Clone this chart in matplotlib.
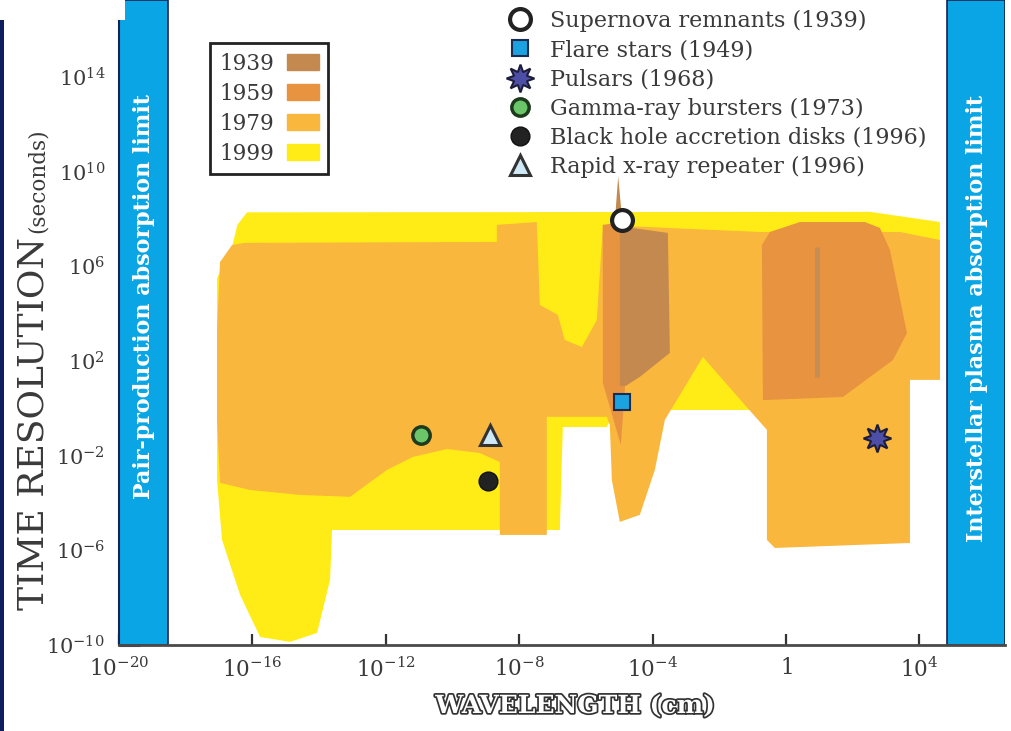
import numpy as np
import matplotlib
matplotlib.use("Agg")
import matplotlib.pyplot as plt
from matplotlib.patches import Patch, Rectangle
import matplotlib.patheffects as pe

plt.rcParams['font.family'] = ['DejaVu Serif']
plt.rcParams['mathtext.fontset'] = 'dejavuserif'

# ---------------------------------------------------------------------------
# Observational coverage by era.  Outlines are given as
# log10(wavelength / cm) and log10(time resolution / s).
# ---------------------------------------------------------------------------
era_labels = ["1939", "1959", "1979", "1999"]
era_colors = ["#C4894F", "#E8933F", "#F9B73D", "#FFEC17"]

cover_1999_logwl = [-16.16, 2.52, 4.62, 4.62, -0.87, -0.87, -3.48, -3.78, -5.22,
                    -5.37, -6.69, -6.78, -13.61, -13.67, -14.06, -14.87, -15.77,
                    -16.37, -16.91, -17.06, -17.06, -16.61, -16.45]
cover_1999_logt = [8.28, 8.30, 7.87, 4.60, 1.50, -0.07, -0.07, -0.36, -0.36,
                   -0.79, -0.79, -5.14, -5.14, -7.25, -9.49, -9.87, -9.66,
                   -7.88, -5.56, -3.03, 5.50, 6.82, 7.75]

cover_1979_logwl = [-17.06, -16.97, -16.61, -16.22, -8.67, -8.67, -7.47, -7.38,
                    -6.84, -6.63, -6.12, -5.67, -5.49, -3.54, -0.78, 3.42, 4.62,
                    4.62, 3.72, 3.72, -0.33, -0.57, -0.57, -1.23, -2.49, -3.63,
                    -3.93, -4.38, -4.98, -5.22, -5.28, -5.37, -7.17, -7.17,
                    -8.58, -8.58, -9.18, -10.16, -11.18, -11.96, -13.07, -14.57,
                    -16.07, -16.97, -17.06]
cover_1979_logt = [3.31, 6.18, 6.90, 6.99, 7.03, 7.75, 7.87, 4.37,
                   3.95, 2.89, 2.59, 3.73, 7.75, 7.62, 7.45, 7.45, 7.11,
                   1.20, 1.20, -5.69, -5.90, -5.56, -0.91, 0.14, 2.17, -0.49,
                   -2.60, -4.50, -4.80, -3.03, -0.70, -0.36, -0.36, -5.35,
                   -5.35, -2.27, -1.89, -1.72, -2.05, -2.60, -3.74, -3.66,
                   -3.45, -3.15, -0.49]

cover_1959_mid_logwl = [-5.49, -4.83, -4.83, -4.95, -5.49]
cover_1959_mid_logt = [7.75, 7.87, 0.78, -1.55, 1.07]

cover_1959_radio_logwl = [-0.69, -0.72, -0.48, 0.42, 2.37, 2.82, 3.12, 3.63,
                          3.21, 1.71, -0.63]
cover_1959_radio_logt = [0.35, 6.90, 7.45, 7.87, 7.87, 7.62, 6.69, 3.18,
                         2.04, 0.48, 0.35]

cover_1939_mid_logwl = [-5.03, -4.92, -4.60, -3.54, -3.48, -4.38, -4.80, -4.98,
                        -4.98, -5.12]
cover_1939_mid_logt = [9.80, 8.10, 7.62, 7.41, 2.34, 1.33, 0.95, 0.95,
                       7.60, 8.10]

# 1939 radio line (single wavelength band)
line_1939_logwl = [0.93, 0.93]
line_1939_logt = [1.33, 6.82]

# Absorption limits (log10 wavelength, cm)
pair_limit_logwl = -18.53
plasma_limit_logwl = 4.83

# Discovered source classes
source_names = ["Supernova remnants", "Flare stars", "Pulsars",
                "Gamma-ray bursters", "Black hole accretion disks",
                "Rapid x-ray repeater"]
source_years = [1939, 1949, 1968, 1973, 1996, 1996]
source_wavelength_cm = [1.2e-5, 1.2e-5, 5.4e2, 1.15e-11, 1.15e-9, 1.3e-9]
source_time_s = [9.0e7, 1.9, 5.6e-2, 7.6e-2, 8.5e-4, 7.6e-2]

xtick_exponents = [-20, -16, -12, -8, -4, 0, 4]
xtick_labels = [r"$10^{-20}$", r"$10^{-16}$", r"$10^{-12}$", r"$10^{-8}$",
                r"$10^{-4}$", r"$1$", r"$10^{4}$"]
ytick_exponents = [-10, -6, -2, 2, 6, 10, 14]
ytick_labels = [r"$10^{-10}$", r"$10^{-6}$", r"$10^{-2}$", r"$10^{2}$",
                r"$10^{6}$", r"$10^{10}$", r"$10^{14}$"]

# Marker appearance per source
source_styles = [
    dict(marker='o', ms=15, mfc='white', mec='#222222', mew=3.0),
    dict(marker='s', ms=11.5, mfc='#1AA3E0', mec='#1d2b4f', mew=1.5),
    dict(marker=(8, 1, 0), ms=20, mfc='#4D4FA6', mec='#1d1d3a', mew=1.5),
    dict(marker='o', ms=12.5, mfc='#6BC66A', mec='#1d3a1d', mew=2.5),
    dict(marker='o', ms=13.5, mfc='#222222', mec='#111111', mew=1.0),
    dict(marker='^', ms=15, mfc='#CFE9F7', mec='#333333', mew=2.2),
]

band_color = '#0AA5E4'
navy = '#16224f'
text_color = '#3a3a3a'
W, H = 1012, 731

fig = plt.figure(figsize=(W / 100, H / 100), dpi=100)
ax = fig.add_axes([119 / W, 86 / H, 886 / W, 645 / H])
ax.set_xscale('log')
ax.set_yscale('log')
ax.set_xlim(1e-20, 10 ** 6.57)
ax.set_ylim(1e-10, 10 ** 17.25)


def fill_region(lx, lt, color, z):
    ax.fill(10 ** np.asarray(lx), 10 ** np.asarray(lt), color=color,
            lw=0, zorder=z)


fill_region(cover_1999_logwl, cover_1999_logt, era_colors[3], 1)
fill_region(cover_1979_logwl, cover_1979_logt, era_colors[2], 2)
fill_region(cover_1959_mid_logwl, cover_1959_mid_logt, era_colors[1], 3)
fill_region(cover_1959_radio_logwl, cover_1959_radio_logt, era_colors[1], 3)
fill_region(cover_1939_mid_logwl, cover_1939_mid_logt, era_colors[0], 4)
ax.plot(10 ** np.asarray(line_1939_logwl), 10 ** np.asarray(line_1939_logt),
        color='#C68E55', lw=3.6, solid_capstyle='butt', zorder=4)

# Absorption limit bands
ax.axvspan(1e-20, 10 ** pair_limit_logwl, facecolor=band_color,
           edgecolor=navy, lw=1.2, zorder=5)
ax.axvspan(10 ** plasma_limit_logwl, 10 ** 6.57, facecolor=band_color,
           edgecolor=navy, lw=1.2, zorder=5)
fig.text(144 / W, 1 - 297 / H, "Pair-production absorption limit",
         rotation=90, ha='center', va='center', color='white',
         fontsize=16, fontweight='bold', zorder=6)
fig.text(977 / W, 1 - 318 / H, "Interstellar plasma absorption limit",
         rotation=90, ha='center', va='center', color='white',
         fontsize=16, fontweight='bold', zorder=6)

# Source markers
handles = []
for name, yr, wl, t, st in zip(source_names, source_years,
                                source_wavelength_cm, source_time_s,
                                source_styles):
    h, = ax.plot([wl], [t], linestyle='none', zorder=7,
                 label=f"{name} ({yr})", **st)
    handles.append(h)

# Axes styling
for side in ('top', 'right'):
    ax.spines[side].set_visible(False)
ax.spines['left'].set_color(navy)
ax.spines['left'].set_linewidth(1.5)
ax.spines['bottom'].set_color('#4a4a4a')
ax.spines['bottom'].set_linewidth(2)
ax.spines['left'].set_zorder(8)
ax.spines['bottom'].set_zorder(8)

ax.set_xticks([10.0 ** e for e in xtick_exponents])
ax.set_xticklabels(xtick_labels)
ax.set_yticks([10.0 ** e for e in ytick_exponents])
ax.set_yticklabels(ytick_labels)
ax.minorticks_off()
ax.tick_params(axis='x', direction='in', length=8, width=1.6, color='#333333',
               labelsize=15.5, labelcolor=text_color, pad=9)
ax.tick_params(axis='y', direction='in', length=15, width=2.2, color=navy,
               labelsize=15, labelcolor=text_color, pad=10)
for t in ax.get_xticklines() + ax.get_yticklines():
    t.set_zorder(9)

# Axis titles
fig.text(44 / W, 1 - 610 / H, "TIME RESOLUTION", rotation=90,
         rotation_mode='anchor', ha='left', va='baseline',
         fontsize=26, color=text_color)
fig.text(44 / W, 1 - 233 / H, "(seconds)", rotation=90,
         rotation_mode='anchor', ha='left', va='baseline',
         fontsize=15.5, color=text_color)
fig.text(575 / W, 1 - 706 / H, "WAVELENGTH (cm)", ha='center', va='center',
         fontsize=18, fontweight='bold', color='white',
         path_effects=[pe.withStroke(linewidth=2.5, foreground='#333333')])

# Era legend
era_handles = [Patch(facecolor=c, edgecolor=c) for c in era_colors]
leg1 = ax.legend(era_handles, era_labels, loc='upper left',
                 bbox_to_anchor=(210 / W, 1 - 43 / H),
                 bbox_transform=fig.transFigure, markerfirst=False,
                 frameon=True, fancybox=False, framealpha=1,
                 edgecolor='#222222', fontsize=15.5, handlelength=1.45,
                 handleheight=0.75, labelspacing=0.37, borderpad=0.45,
                 handletextpad=0.6, borderaxespad=0)
leg1.get_frame().set_linewidth(2)
for txt in leg1.get_texts():
    txt.set_color(text_color)
ax.add_artist(leg1)

# Source legend
leg2 = ax.legend(handles=handles, loc='upper left',
                 bbox_to_anchor=(509 / W, 1 - 10 / H),
                 bbox_transform=fig.transFigure, frameon=False,
                 fontsize=16, handlelength=1.0, handletextpad=0.85,
                 labelspacing=0.32, borderpad=0, borderaxespad=0,
                 numpoints=1)
for txt in leg2.get_texts():
    txt.set_color(text_color)
leg1.set_zorder(10)
leg2.set_zorder(10)

# Frame decorations at the figure edge
fig.add_artist(Rectangle((0, 0), 4 / W, 711 / H, transform=fig.transFigure,
                         facecolor='#0c1f5c', edgecolor='none', zorder=20))
fig.add_artist(Rectangle((0, 711 / H), 125 / W, 20 / H,
                         transform=fig.transFigure, facecolor='white',
                         edgecolor='none', zorder=20))

fig.savefig("out.png", dpi=100)
